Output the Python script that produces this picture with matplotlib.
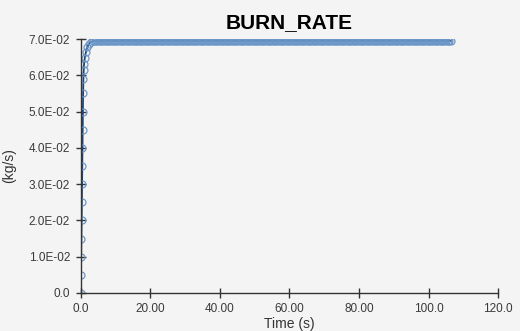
#!/usr/bin/env python3

import numpy as np
import matplotlib.pyplot as plt
from matplotlib.ticker import FixedLocator, FuncFormatter

# ramp-up part of the burn rate curve (s, kg/s)
t_ramp = [0.0, 0.08, 0.16, 0.24, 0.3, 0.36, 0.42, 0.48, 0.54, 0.6, 0.66,
          0.72, 0.8, 0.9, 1.0, 1.2, 1.5, 1.9, 2.4, 3.0, 3.6]
rate_ramp = [0.0, 0.005, 0.010, 0.015, 0.020, 0.025, 0.030, 0.035, 0.040,
             0.045, 0.050, 0.055, 0.059, 0.0615, 0.0632, 0.0648, 0.0663,
             0.0677, 0.0687, 0.0692, 0.0695]

# plateau, sampled every 0.5 s up to end of run
t_end = 106.5
plateau_rate = 0.0695
t_flat = np.arange(4.0, t_end + 0.01, 0.5)
rate_flat = [plateau_rate] * len(t_flat)

time = np.concatenate([t_ramp, t_flat])
rate = np.concatenate([rate_ramp, rate_flat])

xticks = [0, 20, 40, 60, 80, 100, 120]
xlabels = ['0.0', '20.00', '40.00', '60.00', '80.00', '100.0', '120.0']
yticks = [0.0, 0.01, 0.02, 0.03, 0.04, 0.05, 0.06, 0.07]

plt.rcParams['font.family'] = ['Liberation Sans', 'DejaVu Sans']
bg = '#f4f4f4'

fig = plt.figure(figsize=(5.2, 3.31), dpi=100, facecolor=bg)
ax = fig.add_axes([0.155, 0.115, 0.803, 0.767], facecolor=bg)

ax.plot(time, rate, color='#1f4577', lw=1.3, marker='o', ms=5,
        mfc='none', mec='#6b97c8', mew=0.9)

ax.set_xlim(0, 120)
ax.set_ylim(0, 0.07)
ax.xaxis.set_major_locator(FixedLocator(xticks))
ax.set_xticklabels(xlabels)
ax.yaxis.set_major_locator(FixedLocator(yticks))
ax.yaxis.set_major_formatter(FuncFormatter(
    lambda v, p: '0.0' if v == 0 else '{:.1E}'.format(v)))

for s in ['top', 'right']:
    ax.spines[s].set_visible(False)
for s in ['left', 'bottom']:
    ax.spines[s].set_color('#333333')
    ax.spines[s].set_linewidth(1.0)
ax.tick_params(direction='inout', length=7, width=1.0, color='#333333',
               labelsize=8.5, labelcolor='#3a3a3a', pad=4)

ax.set_title('BURN_RATE', fontsize=15, fontweight='bold', pad=8)
ax.set_xlabel('Time (s)', fontsize=10, color='#333333', labelpad=1)
ax.set_ylabel('(kg/s)', fontsize=10, color='#333333', labelpad=9)

fig.savefig('out.png', dpi=100, facecolor=bg)
